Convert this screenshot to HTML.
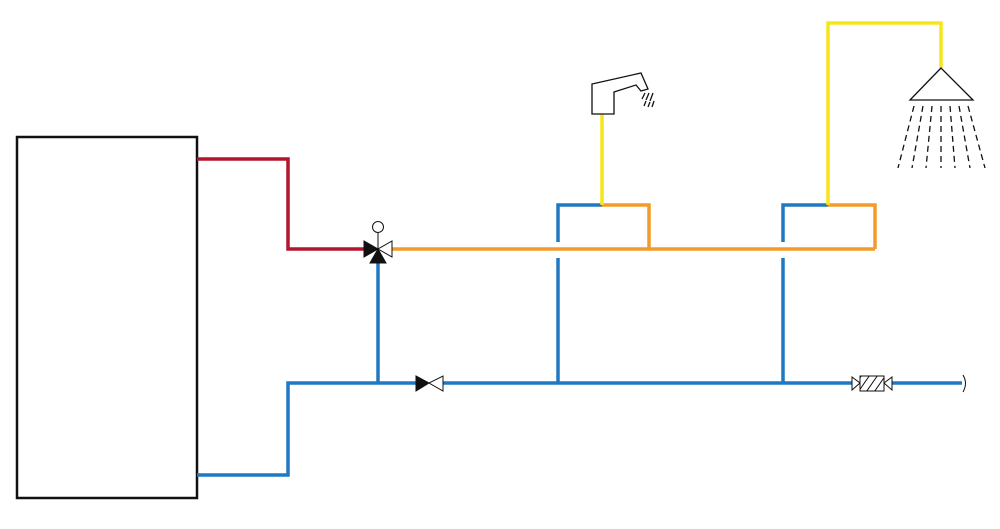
<!DOCTYPE html>
<html><head><style>html,body{margin:0;padding:0;background:#fff}</style></head>
<body>
<svg width="1000" height="524" viewBox="0 0 1000 524" xmlns="http://www.w3.org/2000/svg">
<rect width="1000" height="524" fill="#fff"/>
<rect x="17" y="137" width="180" height="361" fill="none" stroke="#111" stroke-width="2.5"/>
<g fill="none" stroke-width="3.5" stroke-linejoin="miter">
<polyline points="197,159 288,159 288,249 366,249" stroke="#b3152e"/>
<polyline points="390,249 875,249" stroke="#f39a2b"/>
<polyline points="602,205 649,205 649,249" stroke="#f39a2b"/>
<polyline points="828,205 875,205 875,249" stroke="#f39a2b"/>
<polyline points="558,242 558,205 602,205" stroke="#1f78c1"/>
<polyline points="783,242 783,205 828,205" stroke="#1f78c1"/>
<line x1="558" y1="258" x2="558" y2="384" stroke="#1f78c1"/>
<line x1="783" y1="258" x2="783" y2="384" stroke="#1f78c1"/>
<polyline points="197,475 288,475 288,383 416,383" stroke="#1f78c1"/>
<line x1="443" y1="383" x2="852" y2="383" stroke="#1f78c1"/>
<line x1="892" y1="383" x2="962" y2="383" stroke="#1f78c1"/>
<line x1="378" y1="383" x2="378" y2="260" stroke="#1f78c1"/>
<line x1="602" y1="114" x2="602" y2="205" stroke="#f7e51c"/>
<polyline points="828,205 828,23 941,23 941,68" stroke="#f7e51c"/>
</g>
<!-- 3-way valve -->
<g stroke="#111" stroke-width="1">
<line x1="378" y1="232" x2="378" y2="249"/>
<circle cx="378" cy="227" r="5.5" fill="#fff"/>
<polygon points="364,241 364,257 378,249" fill="#111"/>
<polygon points="392,241 392,257 378,249" fill="#fff"/>
<polygon points="370,263 386,263 378,249" fill="#111"/>
</g>
<!-- straight valve -->
<g stroke="#111" stroke-width="1">
<polygon points="416,376 416,391 429,383" fill="#111"/>
<polygon points="443,376 443,391 429,383" fill="#fff"/>
</g>
<!-- filter -->
<g stroke="#111" stroke-width="1" fill="#fff">
<polygon points="852,377 852,390 860,383"/>
<polygon points="892,377 892,390 884,383"/>
<rect x="860" y="376" width="24" height="15"/>
<g clip-path="url(#c)"><path d="M856,395 L872,372 M864,395 L880,372 M872,395 L888,372 M848,395 L864,372" stroke="#111"/></g>
</g>
<defs><clipPath id="c"><rect x="860" y="376" width="24" height="15"/></clipPath></defs>
<path d="M963,375 Q968,383 963,392" fill="none" stroke="#111" stroke-width="1"/>
<!-- faucet -->
<g fill="none" stroke="#111" stroke-width="1.3">
<polygon points="592,84 592,114 614,114 614,92 636,85 641,91 648,89 641,73"/>
<path d="M645,93 L642,99 M649,93 L646,100 M653,93 L650,101 M646,101 L644,106 M650,102 L648,107 M654,101 L652,107"/>
</g>
<!-- shower -->
<g fill="none" stroke="#111" stroke-width="1.3">
<polygon points="941,68 910,100 973,100"/>
<g stroke-dasharray="6,4">
<line x1="914" y1="106" x2="898" y2="168"/>
<line x1="923" y1="106" x2="912" y2="168"/>
<line x1="932" y1="106" x2="926" y2="168"/>
<line x1="941" y1="106" x2="941" y2="168"/>
<line x1="950" y1="106" x2="955" y2="168"/>
<line x1="959" y1="106" x2="970" y2="168"/>
<line x1="968" y1="106" x2="985" y2="168"/>
</g>
</g>
</svg>
</body></html>
